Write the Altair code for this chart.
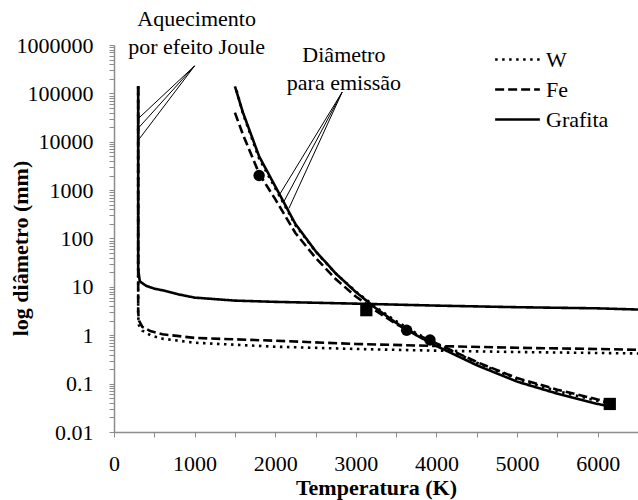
import altair as alt
import pandas as pd

FONT = "Liberation Serif"

# ---- Joule heating curves (Temperature K, diameter mm)
joule_T_W = [300, 300, 310, 350, 450, 600, 1000, 2000, 3000, 4000, 5000, 6000, 6500]
joule_d_W = [140000, 2.5, 1.6, 1.25, 1.0, 0.85, 0.7, 0.58, 0.52, 0.48, 0.45, 0.43, 0.42]
joule_T_Fe = [300, 300, 310, 350, 450, 600, 1000, 2000, 3000, 4000, 5000, 6000, 6500]
joule_d_Fe = [140000, 3.0, 2.0, 1.5, 1.22, 1.05, 0.88, 0.77, 0.66, 0.6, 0.55, 0.52, 0.5]
joule_T_Gr = [300, 300, 305, 320, 400, 500, 600, 800, 1000, 1500, 2000, 3000, 4000, 5000, 6000, 6500]
joule_d_Gr = [140000, 25, 20, 13, 10.5, 9.2, 8.5, 7, 6, 5.2, 4.9, 4.5, 4.1, 3.8, 3.6, 3.4]

# ---- Emission diameter curves
emis_T = [1500, 1600, 1800, 2000, 2250, 2500, 2750, 3000, 3250, 3500, 3750, 4000, 4500, 5000, 5500, 6000, 6150]
emis_T_W = [1520] + emis_T[1:]
emis_d_W = [115000, 38000, 4500, 1100, 190, 54, 19, 8, 3.8, 1.95, 1.1, 0.67, 0.27, 0.125, 0.07, 0.044, 0.04]
emis_d_Fe = [40000, 14000, 2200, 650, 130, 40, 14.5, 6.3, 3.2, 1.7, 1.05, 0.68, 0.28, 0.13, 0.075, 0.047, 0.043]
emis_d_Gr = [140000, 40000, 5000, 1200, 200, 55, 19, 7.8, 3.6, 1.8, 1.0, 0.6, 0.24, 0.11, 0.062, 0.038, 0.034]

# ---- Highlighted points
circle_T = [1800, 3630, 3920]
circle_d = [2000, 1.27, 0.8]
square_T = [3130, 6150]
square_d = [3.3, 0.038]

# ---- Annotations
ann_text = ["Aquecimento", "por efeito Joule", "Diâmetro", "para emissão"]
ann_T = [1025, 1025, 2852, 2852]
ann_d = [3.4e6, 9.0e5, 6.2e5, 1.64e5]
pointer_T = [1000, 1000, 1000, 2830, 2830, 2830]
pointer_d = [3.7e5, 3.7e5, 3.7e5, 1.06e5, 1.06e5, 1.06e5]
pointer_T2 = [300, 300, 300, 2050, 2110, 2170]
pointer_d2 = [3.0e4, 1.9e4, 1.07e4, 790, 590, 420]

materials = ["W", "Fe", "Grafita"]

rows = []
def add(group, mat, Ts, ds):
    for i, (t, d) in enumerate(zip(Ts, ds)):
        rows.append({"group": group, "material": mat, "T": t, "d": d, "seq": i})

add("jW", "W", joule_T_W, joule_d_W)
add("jFe", "Fe", joule_T_Fe, joule_d_Fe)
add("jGr", "Grafita", joule_T_Gr, joule_d_Gr)
add("eW", "W", emis_T_W, emis_d_W)
add("eFe", "Fe", emis_T, emis_d_Fe)
add("eGr", "Grafita", emis_T, emis_d_Gr)
lines_df = pd.DataFrame(rows)

xscale = alt.Scale(domain=[0, 6500], nice=False, zero=False)
yscale = alt.Scale(type="log", domain=[0.01, 1000000], nice=False)

x_ticks = list(range(0, 6501, 500))
y_ticks = []
for e in range(-2, 6):
    for m in range(1, 10):
        y_ticks.append(m * 10.0 ** e)
y_ticks.append(1000000)

x_axis = alt.Axis(
    values=x_ticks,
    labelExpr="datum.value % 1000 == 0 ? format(datum.value, 'd') : ''",
    title="Temperatura (K)",
    titleFont=FONT, titleFontSize=22, titleFontWeight="bold", titleColor="black",
    titleY=62, titleBaseline="alphabetic",
    labelFont=FONT, labelFontSize=22, labelColor="black", labelPadding=16,
    tickSize=5, tickColor="#8c8c8c", domainColor="#8c8c8c", domainWidth=1.5,
    grid=False, labelFlush=False, labelOverlap=False,
)
y_axis = alt.Axis(
    values=y_ticks,
    labelExpr="abs(log(datum.value)/LN10 - round(log(datum.value)/LN10)) < 1e-6 ? (datum.value >= 1 ? format(datum.value, 'd') : format(datum.value, '.2~f')) : ''",
    title="log diâmetro (mm)",
    titleFont=FONT, titleFontSize=22, titleFontWeight="bold", titleColor="black",
    titleX=-94, titleY=203, titleAngle=-90, titleBaseline="middle", titleAlign="center",
    labelFont=FONT, labelFontSize=22, labelColor="black", labelPadding=16,
    tickSize=5, tickColor="#8c8c8c", domainColor="#8c8c8c", domainWidth=1.5,
    grid=False, labelFlush=False, labelOverlap=False,
)

lines = alt.Chart(lines_df).mark_line(color="black", strokeWidth=2.6, strokeCap="butt").encode(
    x=alt.X("T:Q", scale=xscale, axis=x_axis),
    y=alt.Y("d:Q", scale=yscale, axis=y_axis),
    detail="group:N",
    order="seq:Q",
    strokeDash=alt.StrokeDash(
        "material:N",
        scale=alt.Scale(domain=materials, range=[[2.5, 4.5], [9, 4], [1, 0]]),
        legend=alt.Legend(
            title=None, orient="none", legendX=391, legendY=2,
            symbolType="M-2,0H2", symbolSize=500, symbolStrokeWidth=2.6,
            symbolStrokeColor="black",
            labelFont=FONT, labelFontSize=22, labelColor="black", labelOffset=16,
            rowPadding=6,
        ),
    ),
)

circles = alt.Chart(pd.DataFrame({"T": circle_T, "d": circle_d})).mark_point(
    shape="circle", filled=True, color="black", opacity=1, size=130
).encode(x=alt.X("T:Q", scale=xscale), y=alt.Y("d:Q", scale=yscale))

squares = alt.Chart(pd.DataFrame({"T": square_T, "d": square_d})).mark_point(
    shape="square", filled=True, color="black", opacity=1, size=150
).encode(x=alt.X("T:Q", scale=xscale), y=alt.Y("d:Q", scale=yscale))

pointers = alt.Chart(pd.DataFrame({
    "T": pointer_T, "d": pointer_d, "T2": pointer_T2, "d2": pointer_d2
})).mark_rule(color="black", strokeWidth=1).encode(
    x=alt.X("T:Q", scale=xscale), y=alt.Y("d:Q", scale=yscale),
    x2="T2:Q", y2="d2:Q",
)

texts = alt.Chart(pd.DataFrame({"T": ann_T, "d": ann_d, "txt": ann_text})).mark_text(
    font=FONT, fontSize=22, color="black", align="center", baseline="middle"
).encode(x=alt.X("T:Q", scale=xscale), y=alt.Y("d:Q", scale=yscale), text="txt:N")

chart = alt.layer(lines, pointers, circles, squares, texts).properties(
    width=524, height=387,
    autosize=alt.AutoSizeParams(type="none"),
    padding={"left": 114, "top": 45, "right": 0, "bottom": 68},
).configure_view(stroke=None)

chart.save("out.html", embed_options={"renderer": "svg", "actions": False})
